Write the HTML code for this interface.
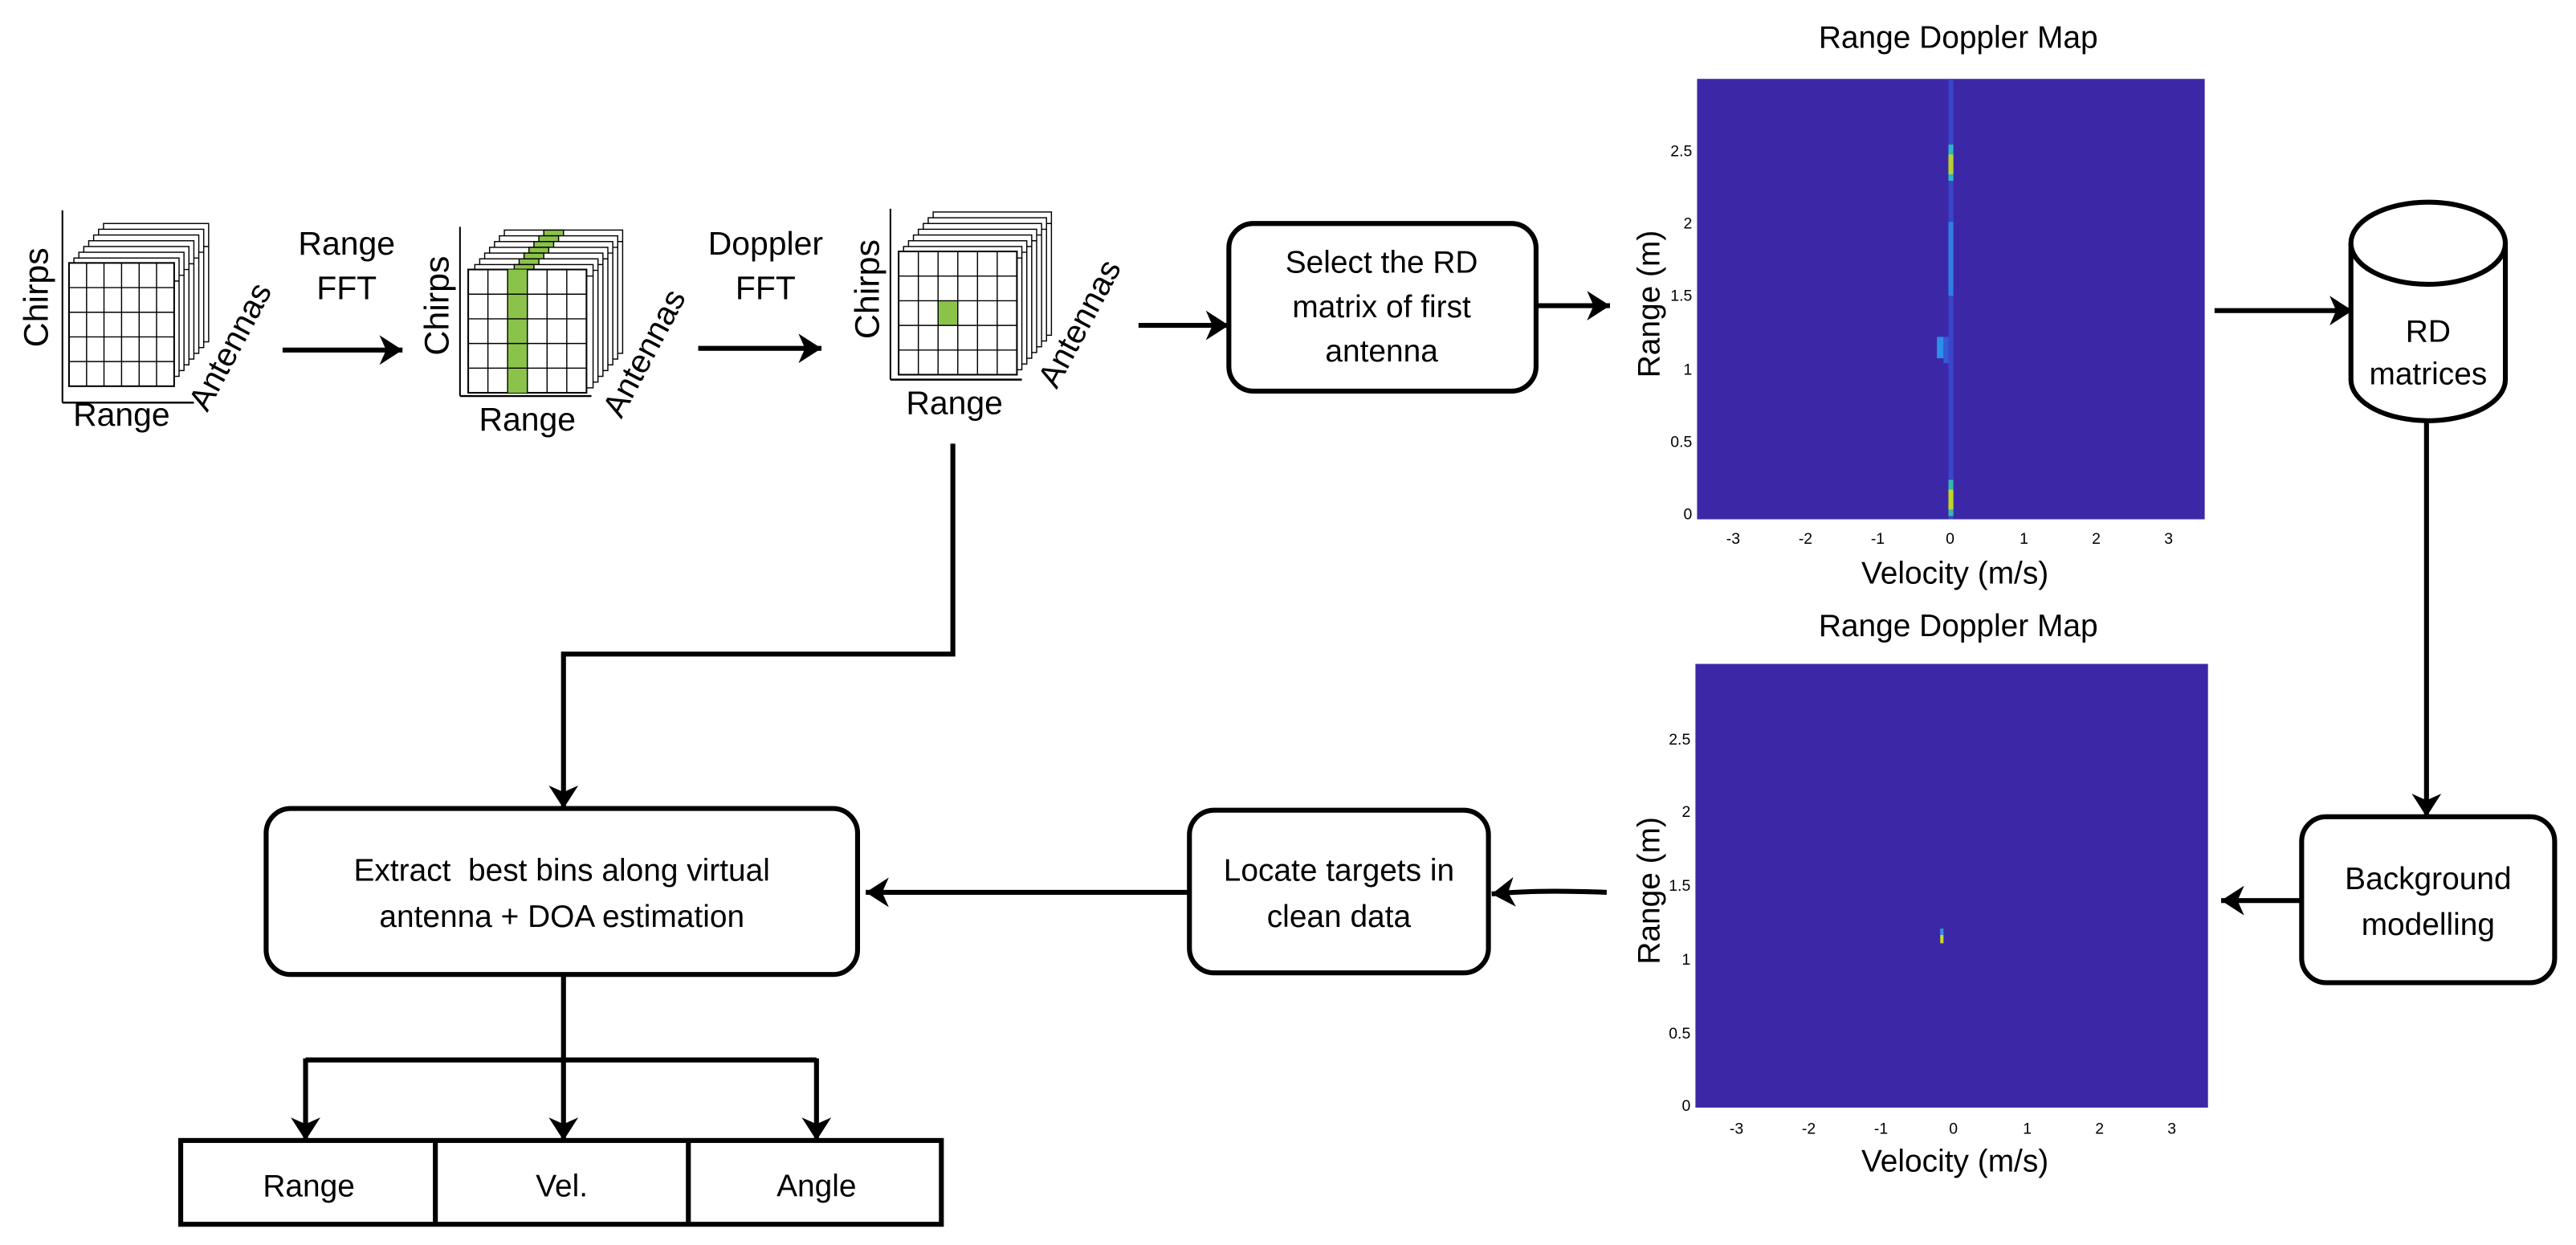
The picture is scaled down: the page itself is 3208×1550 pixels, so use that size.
<!DOCTYPE html>
<html><head><meta charset="utf-8"><style>
html,body{margin:0;padding:0;background:#fff;}
svg{display:block;}
text{font-family:"Liberation Sans",sans-serif;fill:#000;}
</style></head><body>
<svg width="3208" height="1550" viewBox="0 0 1568 757.6" xmlns="http://www.w3.org/2000/svg">
<defs>
<marker id="ah" markerWidth="20" markerHeight="20" refX="14" refY="10" orient="auto" markerUnits="userSpaceOnUse">
<path d="M14,10 L0,1 L4,10 L0,19 Z" fill="#000"/>
</marker>
<pattern id="g1" x="0" y="0" width="10.4" height="14.4" patternUnits="userSpaceOnUse"><path d="M10.4,0V14.4M0,14.4H10.4" stroke="#000" stroke-width="0.7" fill="none"/></pattern>
</defs>
<rect width="1568" height="757.6" fill="#fff"/>

<!-- Cube 1 -->
<g stroke="#000" stroke-width="0.7" fill="#fff">
<line x1="38" y1="128" x2="38" y2="245" stroke-width="1"/>
<line x1="38" y1="245" x2="118" y2="245" stroke-width="1.2"/>
</g>
<g id="c1"></g>
<!-- Cube layers generated inline -->
<g stroke="#000" stroke-width="0.7">
<rect x="63" y="136" width="64" height="72" fill="#fff"/><line x1="63" y1="150" x2="127" y2="150"/>
<rect x="60" y="139.5" width="64" height="72" fill="#fff"/><line x1="60" y1="153.5" x2="124" y2="153.5"/>
<rect x="57" y="143" width="64" height="72" fill="#fff"/><line x1="57" y1="157" x2="121" y2="157"/>
<rect x="54" y="146.5" width="64" height="72" fill="#fff"/><line x1="54" y1="160.5" x2="118" y2="160.5"/>
<rect x="51" y="150" width="64" height="72" fill="#fff"/><line x1="51" y1="164" x2="115" y2="164"/>
<rect x="48" y="153.5" width="64" height="72" fill="#fff"/><line x1="48" y1="167.5" x2="112" y2="167.5"/>
<rect x="45" y="157" width="64" height="72" fill="#fff"/><line x1="45" y1="171" x2="109" y2="171"/>
<rect x="42" y="160" width="64" height="75" fill="#fff" stroke-width="1"/>
<path d="M52.7,160V235M63.3,160V235M74,160V235M84.7,160V235M95.3,160V235M42,175H106M42,190H106M42,205H106M42,220H106" fill="none"/>
</g>
<text x="0" y="0" font-size="21" transform="translate(29,181) rotate(-90)" text-anchor="middle">Chirps</text>
<text x="74" y="259" font-size="20" text-anchor="middle">Range</text>
<text x="0" y="0" font-size="20" transform="translate(146,214) rotate(-62)" text-anchor="middle">Antennas</text>

<!-- Arrow 1 -->
<line x1="172" y1="213" x2="245" y2="213" stroke="#000" stroke-width="3" marker-end="url(#ah)"/>
<text x="211" y="155" font-size="20" text-anchor="middle">Range</text>
<text x="211" y="182" font-size="20" text-anchor="middle">FFT</text>

<!-- Cube 2 -->
<line x1="280" y1="138" x2="280" y2="241" stroke="#000" stroke-width="1"/>
<line x1="280" y1="241" x2="360" y2="241" stroke="#000" stroke-width="1.2"/>
<g stroke="#000" stroke-width="0.7">
<rect x="307" y="140" width="72" height="75" fill="#fff"/><rect x="331" y="140" width="12" height="7" fill="#8bc34a"/><line x1="307" y1="147" x2="379" y2="147"/>
<rect x="304" y="143.5" width="72" height="75" fill="#fff"/><rect x="328" y="143.5" width="12" height="7" fill="#8bc34a"/><line x1="304" y1="150.5" x2="376" y2="150.5"/>
<rect x="301" y="147" width="72" height="75" fill="#fff"/><rect x="325" y="147" width="12" height="7" fill="#8bc34a"/><line x1="301" y1="154" x2="373" y2="154"/>
<rect x="298" y="150.5" width="72" height="75" fill="#fff"/><rect x="322" y="150.5" width="12" height="7" fill="#8bc34a"/><line x1="298" y1="157.5" x2="370" y2="157.5"/>
<rect x="295" y="154" width="72" height="75" fill="#fff"/><rect x="319" y="154" width="12" height="7" fill="#8bc34a"/><line x1="295" y1="161" x2="367" y2="161"/>
<rect x="292" y="157.5" width="72" height="75" fill="#fff"/><rect x="316" y="157.5" width="12" height="7" fill="#8bc34a"/><line x1="292" y1="164.5" x2="364" y2="164.5"/>
<rect x="289" y="161" width="72" height="75" fill="#fff"/><rect x="313" y="161" width="12" height="7" fill="#8bc34a"/><line x1="289" y1="168" x2="361" y2="168"/>
<rect x="285" y="164" width="72" height="75" fill="#fff" stroke-width="1"/>
<rect x="309" y="164" width="12" height="75" fill="#8bc34a" stroke="none"/>
<path d="M297,164V239M309,164V239M321,164V239M333,164V239M345,164V239M285,179H357M285,194H357M285,209H357M285,224H357" fill="none"/>
</g>
<text x="0" y="0" font-size="21" transform="translate(273,186) rotate(-90)" text-anchor="middle">Chirps</text>
<text x="321" y="262" font-size="20" text-anchor="middle">Range</text>
<text x="0" y="0" font-size="20" transform="translate(398,218) rotate(-62)" text-anchor="middle">Antennas</text>

<!-- Arrow 2 -->
<line x1="425" y1="212" x2="500" y2="212" stroke="#000" stroke-width="3" marker-end="url(#ah)"/>
<text x="466" y="155" font-size="20" text-anchor="middle">Doppler</text>
<text x="466" y="182" font-size="20" text-anchor="middle">FFT</text>

<!-- Cube 3 -->
<line x1="542" y1="127" x2="542" y2="231" stroke="#000" stroke-width="1"/>
<line x1="542" y1="231" x2="622" y2="231" stroke="#000" stroke-width="1.2"/>
<g stroke="#000" stroke-width="0.7">
<rect x="568" y="129" width="72" height="75" fill="#fff"/><line x1="568" y1="136" x2="640" y2="136"/>
<rect x="565" y="132.5" width="72" height="75" fill="#fff"/><line x1="565" y1="139.5" x2="637" y2="139.5"/>
<rect x="562" y="136" width="72" height="75" fill="#fff"/><line x1="562" y1="143" x2="634" y2="143"/>
<rect x="559" y="139.5" width="72" height="75" fill="#fff"/><line x1="559" y1="146.5" x2="631" y2="146.5"/>
<rect x="556" y="143" width="72" height="75" fill="#fff"/><line x1="556" y1="150" x2="628" y2="150"/>
<rect x="553" y="146.5" width="72" height="75" fill="#fff"/><line x1="553" y1="153.5" x2="625" y2="153.5"/>
<rect x="550" y="150" width="72" height="75" fill="#fff"/><line x1="550" y1="157" x2="622" y2="157"/>
<rect x="547" y="153" width="72" height="75" fill="#fff" stroke-width="1"/>
<rect x="571" y="183" width="12" height="15" fill="#8bc34a" stroke="none"/>
<path d="M559,153V228M571,153V228M583,153V228M595,153V228M607,153V228M547,168H619M547,183H619M547,198H619M547,213H619" fill="none"/>
</g>
<text x="0" y="0" font-size="21" transform="translate(535,176) rotate(-90)" text-anchor="middle">Chirps</text>
<text x="581" y="252" font-size="20" text-anchor="middle">Range</text>
<text x="0" y="0" font-size="20" transform="translate(663,200) rotate(-62)" text-anchor="middle">Antennas</text>

<!-- Arrow 3 -->
<line x1="693" y1="198" x2="748" y2="198" stroke="#000" stroke-width="3" marker-end="url(#ah)"/>

<!-- Select box -->
<rect x="748" y="136" width="187" height="102" rx="15" fill="#fff" stroke="#000" stroke-width="3"/>
<text x="841" y="166" font-size="19" text-anchor="middle">Select the RD</text>
<text x="841" y="193" font-size="19" text-anchor="middle">matrix of first</text>
<text x="841" y="220" font-size="19" text-anchor="middle">antenna</text>

<line x1="935" y1="186" x2="980" y2="186" stroke="#000" stroke-width="3" marker-end="url(#ah)"/>

<!-- Plot 1 -->
<text x="1192" y="29" font-size="19" text-anchor="middle">Range Doppler Map</text>
<rect x="1033" y="48" width="309" height="268" fill="#3c28a6"/>
<rect x="1186" y="48" width="3" height="268" fill="#3a45c8"/>
<rect x="1186" y="88" width="3" height="22" fill="#2fb6c8"/>
<rect x="1186" y="94" width="3" height="12" fill="#b8d030"/>
<rect x="1186" y="135" width="3" height="45" fill="#2f7fe0"/>
<rect x="1186" y="292" width="3" height="22" fill="#36b8b0"/>
<rect x="1186" y="298" width="3" height="12" fill="#c0d428"/>
<rect x="1179" y="205" width="4" height="13" fill="#2a90e8"/>
<rect x="1183" y="205" width="3" height="16" fill="#3758d8"/>
<g font-size="9.5" text-anchor="end">
<text x="1030" y="316">0</text><text x="1030" y="272">0.5</text><text x="1030" y="228">1</text><text x="1030" y="183">1.5</text><text x="1030" y="139">2</text><text x="1030" y="95">2.5</text>
</g>
<g font-size="9.5" text-anchor="middle">
<text x="1055" y="331">-3</text><text x="1099" y="331">-2</text><text x="1143" y="331">-1</text><text x="1187" y="331">0</text><text x="1232" y="331">1</text><text x="1276" y="331">2</text><text x="1320" y="331">3</text>
</g>
<text x="1190" y="355" font-size="19" text-anchor="middle">Velocity (m/s)</text>
<text x="0" y="0" font-size="19" transform="translate(1010,185) rotate(-90)" text-anchor="middle">Range (m)</text>

<!-- arrow to cylinder -->
<line x1="1348" y1="189" x2="1432" y2="189" stroke="#000" stroke-width="3" marker-end="url(#ah)"/>

<!-- Cylinder -->
<path d="M1431,148 V231 A47,25 0 0 0 1525,231 V148" fill="#fff" stroke="#000" stroke-width="3"/>
<ellipse cx="1478" cy="148" rx="47" ry="25" fill="#fff" stroke="#000" stroke-width="3"/>
<text x="1478" y="208" font-size="19" text-anchor="middle">RD</text>
<text x="1478" y="234" font-size="19" text-anchor="middle">matrices</text>

<line x1="1477" y1="256" x2="1477" y2="497" stroke="#000" stroke-width="3" marker-end="url(#ah)"/>

<!-- Background box -->
<rect x="1401" y="497" width="154" height="101" rx="15" fill="#fff" stroke="#000" stroke-width="3"/>
<text x="1478" y="541" font-size="19" text-anchor="middle">Background</text>
<text x="1478" y="569" font-size="19" text-anchor="middle">modelling</text>

<line x1="1400" y1="548" x2="1352" y2="548" stroke="#000" stroke-width="3" marker-end="url(#ah)"/>

<!-- Plot 2 -->
<text x="1192" y="387" font-size="19" text-anchor="middle">Range Doppler Map</text>
<rect x="1032" y="404" width="312" height="270" fill="#3c28a6"/>
<rect x="1181" y="565" width="2" height="5" fill="#3a8ee0"/>
<rect x="1181" y="569" width="2" height="5" fill="#c8d830"/>
<g font-size="9.5" text-anchor="end">
<text x="1029" y="676">0</text><text x="1029" y="632">0.5</text><text x="1029" y="587">1</text><text x="1029" y="542">1.5</text><text x="1029" y="497">2</text><text x="1029" y="453">2.5</text>
</g>
<g font-size="9.5" text-anchor="middle">
<text x="1057" y="690">-3</text><text x="1101" y="690">-2</text><text x="1145" y="690">-1</text><text x="1189" y="690">0</text><text x="1234" y="690">1</text><text x="1278" y="690">2</text><text x="1322" y="690">3</text>
</g>
<text x="1190" y="713" font-size="19" text-anchor="middle">Velocity (m/s)</text>
<text x="0" y="0" font-size="19" transform="translate(1010,542) rotate(-90)" text-anchor="middle">Range (m)</text>

<!-- arrow plot2 to locate -->
<path d="M978,543 C950,542 930,542 908,544" fill="none" stroke="#000" stroke-width="3" marker-end="url(#ah)"/>

<!-- Locate box -->
<rect x="724" y="493" width="182" height="99" rx="15" fill="#fff" stroke="#000" stroke-width="3"/>
<text x="815" y="536" font-size="19" text-anchor="middle">Locate targets in</text>
<text x="815" y="564" font-size="19" text-anchor="middle">clean data</text>

<line x1="724" y1="543" x2="527" y2="543" stroke="#000" stroke-width="3" marker-end="url(#ah)"/>

<!-- cube3 to extract -->
<path d="M580,270 V398 H343 V492" fill="none" stroke="#000" stroke-width="3" marker-end="url(#ah)"/>

<!-- Extract box -->
<rect x="162" y="492" width="360" height="101" rx="15" fill="#fff" stroke="#000" stroke-width="3"/>
<text x="342" y="536" font-size="19" text-anchor="middle" xml:space="preserve">Extract  best bins along virtual</text>
<text x="342" y="564" font-size="19" text-anchor="middle">antenna + DOA estimation</text>

<!-- fan-out -->
<path d="M343,593 V645" fill="none" stroke="#000" stroke-width="3"/>
<path d="M186,645 H497" fill="none" stroke="#000" stroke-width="3"/>
<line x1="186" y1="644" x2="186" y2="694" stroke="#000" stroke-width="3" marker-end="url(#ah)"/>
<line x1="343" y1="644" x2="343" y2="694" stroke="#000" stroke-width="3" marker-end="url(#ah)"/>
<line x1="497" y1="644" x2="497" y2="694" stroke="#000" stroke-width="3" marker-end="url(#ah)"/>

<!-- table -->
<rect x="110" y="694" width="463" height="51" fill="#fff" stroke="#000" stroke-width="3"/>
<line x1="265" y1="694" x2="265" y2="745" stroke="#000" stroke-width="3"/>
<line x1="419" y1="694" x2="419" y2="745" stroke="#000" stroke-width="3"/>
<text x="188" y="728" font-size="19" text-anchor="middle">Range</text>
<text x="342" y="728" font-size="19" text-anchor="middle">Vel.</text>
<text x="497" y="728" font-size="19" text-anchor="middle">Angle</text>
</svg>
</body></html>
